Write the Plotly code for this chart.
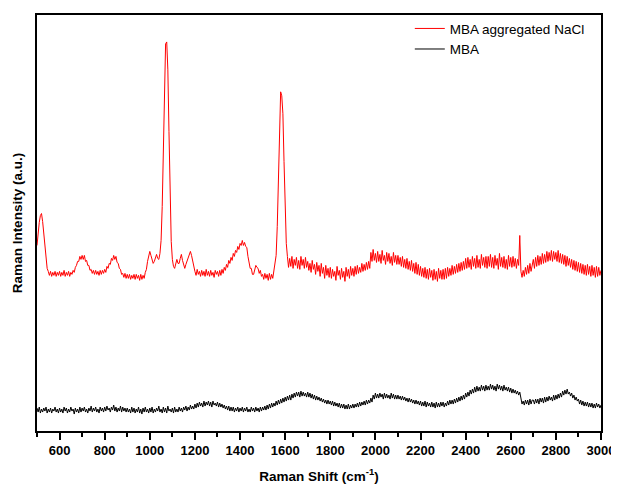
import plotly.graph_objects as go

# Raman shift grid (cm^-1), one sample every 5 cm^-1
raman_shift = list(range(500, 3001, 5))

# Intensities (arbitrary units), 20 samples per 100 cm^-1
mba_nacl = [
    186, 200, 209, 216, 218, 210, 196, 182, 169, 163, 160, 156, 160, 155, 159, 156, 160, 155, 159, 156,  # 500
    160, 155, 159, 156, 161, 155, 159, 156, 160, 155, 159, 157, 161, 159, 164, 166, 170, 170, 175, 172,  # 600
    176, 172, 176, 170, 171, 166, 166, 161, 162, 158, 161, 157, 161, 157, 160, 156, 161, 157, 161, 158,  # 700
    162, 159, 165, 163, 168, 167, 173, 171, 176, 172, 175, 169, 168, 163, 162, 157, 158, 154, 158, 153,  # 800
    157, 153, 157, 152, 156, 153, 157, 152, 157, 153, 156, 151, 157, 152, 156, 153, 159, 162, 170, 176,  # 900
    180, 176, 171, 168, 170, 175, 177, 173, 172, 178, 191, 225, 281, 345, 388, 390, 362, 300, 231, 190,  # 1000
    172, 165, 163, 167, 172, 168, 168, 173, 177, 171, 167, 163, 167, 170, 173, 178, 180, 176, 170, 163,  # 1100
    160, 156, 162, 157, 160, 155, 161, 156, 160, 155, 162, 156, 160, 155, 161, 156, 159, 154, 161, 157,  # 1200
    160, 155, 161, 156, 162, 158, 164, 161, 167, 164, 171, 168, 174, 171, 178, 175, 181, 179, 185, 182,  # 1300
    188, 186, 191, 186, 189, 185, 184, 175, 169, 163, 163, 157, 157, 162, 166, 164, 163, 158, 161, 155,  # 1400
    157, 152, 158, 153, 157, 151, 158, 152, 157, 153, 160, 166, 176, 205, 248, 300, 340, 336, 318, 270,  # 1500
    215, 188, 175, 164, 173, 165, 175, 163, 172, 166, 174, 163, 171, 162, 175, 166, 172, 163, 174, 164,  # 1600
    170, 161, 168, 159, 171, 162, 167, 157, 169, 160, 166, 155, 168, 158, 164, 153, 166, 156, 163, 154,  # 1700
    164, 153, 162, 155, 160, 151, 165, 156, 161, 152, 163, 154, 160, 150, 164, 155, 162, 153, 165, 156,  # 1800
    163, 155, 165, 157, 166, 158, 164, 159, 168, 160, 167, 161, 169, 162, 170, 163, 179, 170, 182, 171,  # 1900
    178, 169, 180, 170, 177, 168, 181, 171, 176, 167, 179, 170, 178, 168, 175, 166, 179, 169, 176, 167,  # 2000
    176, 167, 174, 165, 175, 164, 172, 163, 173, 162, 170, 161, 171, 160, 168, 158, 169, 157, 167, 156,  # 2100
    165, 155, 163, 154, 164, 153, 162, 152, 163, 154, 161, 151, 162, 152, 160, 150, 163, 153, 161, 152,  # 2200
    162, 152, 163, 153, 164, 155, 163, 156, 166, 157, 165, 158, 167, 159, 168, 160, 169, 161, 170, 162,  # 2300
    173, 163, 174, 164, 172, 162, 175, 165, 173, 163, 176, 164, 172, 163, 177, 166, 174, 164, 175, 163,  # 2400
    175, 165, 177, 164, 174, 163, 176, 166, 173, 162, 178, 165, 174, 164, 175, 163, 172, 162, 176, 165,  # 2500
    174, 164, 175, 165, 173, 163, 172, 166, 196, 160, 154, 161, 155, 164, 157, 166, 158, 168, 160, 169,  # 2600
    172, 163, 174, 165, 176, 166, 175, 167, 178, 168, 177, 169, 180, 170, 179, 171, 181, 170, 180, 172,  # 2700
    179, 170, 181, 169, 178, 168, 177, 167, 176, 165, 175, 166, 173, 164, 172, 162, 171, 161, 170, 160,  # 2800
    169, 159, 168, 158, 167, 157, 166, 156, 167, 157, 165, 155, 166, 156, 164, 154, 165, 155, 164, 156,  # 2900
    161,                                                                                                # 3000
]

mba = [
    23, 19, 24, 18, 22, 19, 23, 20, 24, 18, 22, 19, 23, 18, 22, 20, 24, 19, 22, 18,  # 500
    23, 19, 22, 18, 24, 20, 23, 18, 22, 19, 24, 20, 22, 17, 23, 19, 22, 18, 24, 19,  # 600
    23, 20, 24, 19, 22, 18, 23, 20, 25, 19, 23, 20, 24, 19, 22, 18, 24, 20, 23, 19,  # 700
    24, 20, 25, 21, 23, 19, 24, 21, 26, 20, 24, 19, 23, 20, 25, 19, 24, 20, 23, 19,  # 800
    23, 19, 22, 18, 24, 19, 23, 18, 22, 19, 24, 18, 22, 17, 23, 19, 24, 19, 22, 18,  # 900
    23, 19, 24, 18, 22, 19, 23, 20, 25, 19, 22, 18, 24, 19, 23, 18, 25, 20, 22, 19,  # 1000
    23, 18, 24, 19, 22, 19, 24, 20, 23, 19, 24, 21, 25, 20, 24, 21, 26, 22, 25, 22,  # 1100
    27, 23, 28, 24, 29, 25, 28, 24, 30, 25, 29, 26, 30, 25, 29, 24, 30, 26, 28, 25,  # 1200
    29, 24, 28, 24, 27, 23, 26, 22, 25, 21, 25, 20, 24, 20, 24, 19, 23, 20, 24, 19,  # 1300
    23, 20, 24, 19, 23, 20, 24, 19, 22, 19, 24, 20, 23, 19, 24, 20, 23, 19, 24, 20,  # 1400
    24, 21, 25, 21, 26, 22, 27, 23, 28, 24, 28, 25, 30, 26, 31, 27, 32, 28, 33, 29,  # 1500
    34, 30, 35, 31, 36, 31, 37, 33, 38, 34, 39, 35, 39, 34, 40, 35, 39, 35, 38, 34,  # 1600
    39, 34, 38, 33, 37, 32, 36, 31, 35, 31, 34, 30, 33, 29, 32, 28, 31, 27, 31, 27,  # 1700
    30, 26, 30, 25, 29, 25, 28, 24, 28, 23, 27, 23, 27, 22, 26, 22, 27, 22, 26, 23,  # 1800
    27, 23, 27, 24, 28, 24, 29, 25, 29, 26, 30, 26, 31, 27, 31, 28, 33, 29, 36, 32,  # 1900
    38, 33, 37, 33, 38, 34, 37, 32, 38, 33, 37, 33, 36, 32, 38, 33, 37, 32, 36, 32,  # 2000
    36, 32, 35, 31, 35, 31, 34, 30, 33, 29, 33, 29, 32, 28, 31, 27, 31, 27, 30, 26,  # 2100
    30, 25, 29, 25, 30, 24, 29, 25, 28, 24, 29, 24, 28, 23, 29, 24, 28, 24, 29, 25,  # 2200
    29, 24, 28, 25, 30, 26, 31, 27, 31, 27, 32, 28, 33, 29, 34, 30, 35, 31, 36, 32,  # 2300
    38, 34, 39, 35, 41, 37, 42, 38, 44, 39, 45, 40, 44, 40, 46, 41, 45, 40, 46, 41,  # 2400
    45, 41, 47, 42, 46, 41, 45, 40, 47, 42, 46, 41, 45, 40, 46, 41, 44, 40, 44, 39,  # 2500
    43, 38, 42, 38, 41, 37, 40, 36, 39, 34, 27, 30, 26, 31, 27, 31, 26, 32, 27, 31,  # 2600
    31, 27, 32, 28, 32, 27, 33, 29, 33, 28, 34, 29, 34, 30, 35, 31, 34, 30, 36, 31,  # 2700
    36, 32, 37, 33, 38, 34, 40, 36, 41, 37, 42, 37, 39, 35, 38, 33, 36, 31, 34, 30,  # 2800
    32, 27, 31, 26, 30, 25, 29, 25, 29, 24, 28, 24, 28, 23, 27, 23, 28, 24, 27, 23,  # 2900
    26,                                                                              # 3000
]

x_ticks = [600, 800, 1000, 1200, 1400, 1600, 1800, 2000, 2200, 2400, 2600, 2800, 3000]
series_names = ["MBA aggregated NaCl", "MBA"]

FONT = "Liberation Sans, Arial, sans-serif"

fig = go.Figure()
fig.add_trace(go.Scatter(x=raman_shift, y=mba_nacl, mode="lines", name=series_names[0],
                         line=dict(color="#ff0000", width=1)))
fig.add_trace(go.Scatter(x=raman_shift, y=mba, mode="lines", name=series_names[1],
                         line=dict(color="#000000", width=1)))

# the page body adds an 8px margin, so the figure is 8px smaller and shifted
fig.update_layout(
    width=611, height=476,
    margin=dict(l=29, r=18, t=6, b=53),
    paper_bgcolor="white", plot_bgcolor="white",
    font=dict(family=FONT, color="black"),
    showlegend=True,
    legend=dict(x=0.661, y=1.002, xanchor="left", yanchor="top",
                bgcolor="rgba(0,0,0,0)", font=dict(size=13.5), tracegroupgap=0),
)
fig.update_xaxes(
    range=[500, 3000], tickvals=x_ticks, ticktext=["<b>%d</b>" % v for v in x_ticks],
    ticks="outside", ticklen=7, tickwidth=1.5, tickcolor="black",
    minor=dict(dtick=100, tick0=500, ticks="outside", ticklen=4, tickwidth=1.5, tickcolor="black"),
    tickfont=dict(size=13, family=FONT),
    showline=True, linewidth=1.5, linecolor="black", mirror=True,
    showgrid=False, zeroline=False, automargin=False,
    title=dict(text="<b>Raman Shift (cm<sup>-1</sup>)</b>", font=dict(size=13.5), standoff=14),
)
fig.update_yaxes(
    range=[0, 417], showticklabels=False, ticks="",
    showline=True, linewidth=1.5, linecolor="black", mirror=True,
    showgrid=False, zeroline=False, automargin=False,
    title=dict(text="<b>Raman Intensity (a.u.)</b>", font=dict(size=13.5), standoff=10),
)

fig.write_html("out.html")
